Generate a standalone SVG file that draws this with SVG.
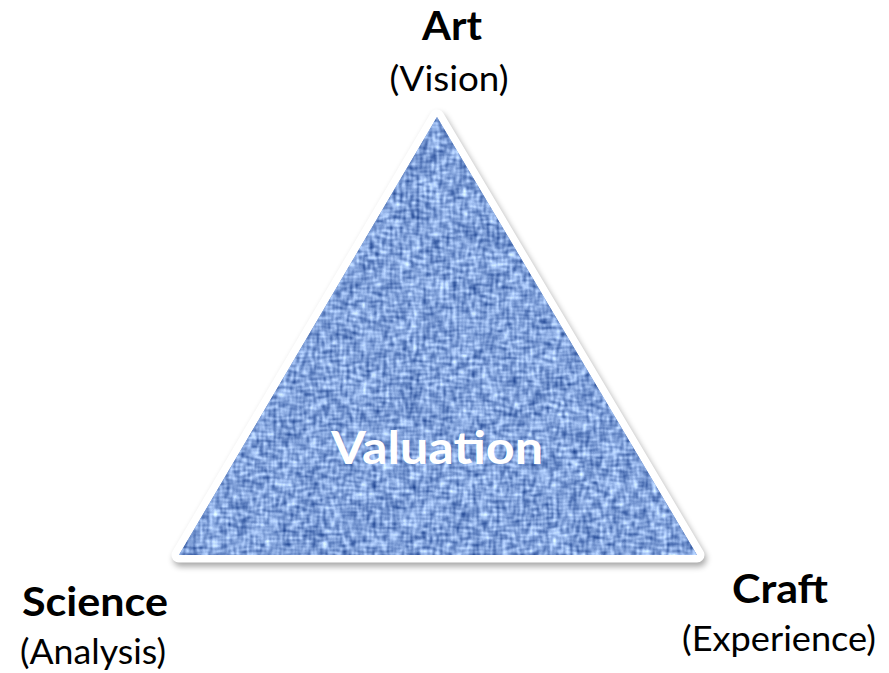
<svg xmlns="http://www.w3.org/2000/svg" width="889" height="673" viewBox="0 0 889 673">
  <style>
    .lbl { font-family: Lato, "Open Sans", "Liberation Sans", sans-serif; font-weight: bold; font-size: 40px; fill: #000; text-anchor: middle; }
    .sub { font-family: Lato, "Open Sans", "Liberation Sans", sans-serif; font-size: 35px; fill: #000; text-anchor: middle; }
    .center { font-family: Lato, "Open Sans", "Liberation Sans", sans-serif; font-weight: bold; font-size: 45px; fill: #fff; text-anchor: middle; }
  </style>
  <defs>
    <filter id="shadow" x="-10%" y="-10%" width="120%" height="125%" color-interpolation-filters="sRGB">
      <feGaussianBlur in="SourceAlpha" stdDeviation="3"/>
      <feOffset dx="2" dy="4" result="b"/>
      <feComponentTransfer in="b" result="s">
        <feFuncA type="linear" slope="0.35"/>
      </feComponentTransfer>
      <feMerge>
        <feMergeNode in="s"/>
        <feMergeNode in="SourceGraphic"/>
      </feMerge>
    </filter>
    <filter id="fabric" x="0" y="0" width="100%" height="100%" color-interpolation-filters="sRGB">
      <feTurbulence type="fractalNoise" baseFrequency="0.1 0.3" numOctaves="1" seed="3" result="n1"/>
      <feTurbulence type="fractalNoise" baseFrequency="0.3 0.1" numOctaves="1" seed="11" result="n2"/>
      <feTurbulence type="fractalNoise" baseFrequency="0.04" numOctaves="1" seed="5" result="n3"/>
      <feComposite in="n1" in2="n2" operator="arithmetic" k2="0.45" k3="0.45" k4="0.05" result="n12"/>
      <feComposite in="n12" in2="n3" operator="arithmetic" k2="0.85" k3="0.15" result="n"/>
      <feColorMatrix in="n" type="matrix" values="1.7 0 0 0 -0.41  1.6 0 0 0 -0.23  1.25 0 0 0 0.18  0 0 0 0 1"/>
    </filter>
    <clipPath id="tri">
      <polygon points="437,117 179,555 697,555"/>
    </clipPath>
  </defs>

  <g id="connectors"></g>

  <g id="valuation">
    <polygon points="437,117 179,555 697,555" fill="#ffffff" stroke="#ffffff" stroke-width="15" stroke-linejoin="round" filter="url(#shadow)"/>
    <g clip-path="url(#tri)">
      <rect x="170" y="110" width="540" height="450" fill="#6a8cc6"/>
      <rect x="170" y="110" width="540" height="450" filter="url(#fabric)"/>
    </g>
    <text class="center" x="437" y="464" textLength="212" lengthAdjust="spacingAndGlyphs">Valuation</text>
  </g>

  <g id="art">
    <text class="lbl" x="452" y="40" textLength="60" lengthAdjust="spacingAndGlyphs">Art</text>
    <text class="sub" x="449" y="91" textLength="119" lengthAdjust="spacingAndGlyphs">(Vision)</text>
  </g>

  <g id="science">
    <text class="lbl" x="95" y="616" textLength="146" lengthAdjust="spacingAndGlyphs">Science</text>
    <text class="sub" x="93" y="664" textLength="146" lengthAdjust="spacingAndGlyphs">(Analysis)</text>
  </g>

  <g id="craft">
    <text class="lbl" x="780" y="603" textLength="96" lengthAdjust="spacingAndGlyphs">Craft</text>
    <text class="sub" x="779" y="651" textLength="194" lengthAdjust="spacingAndGlyphs">(Experience)</text>
  </g>
</svg>
